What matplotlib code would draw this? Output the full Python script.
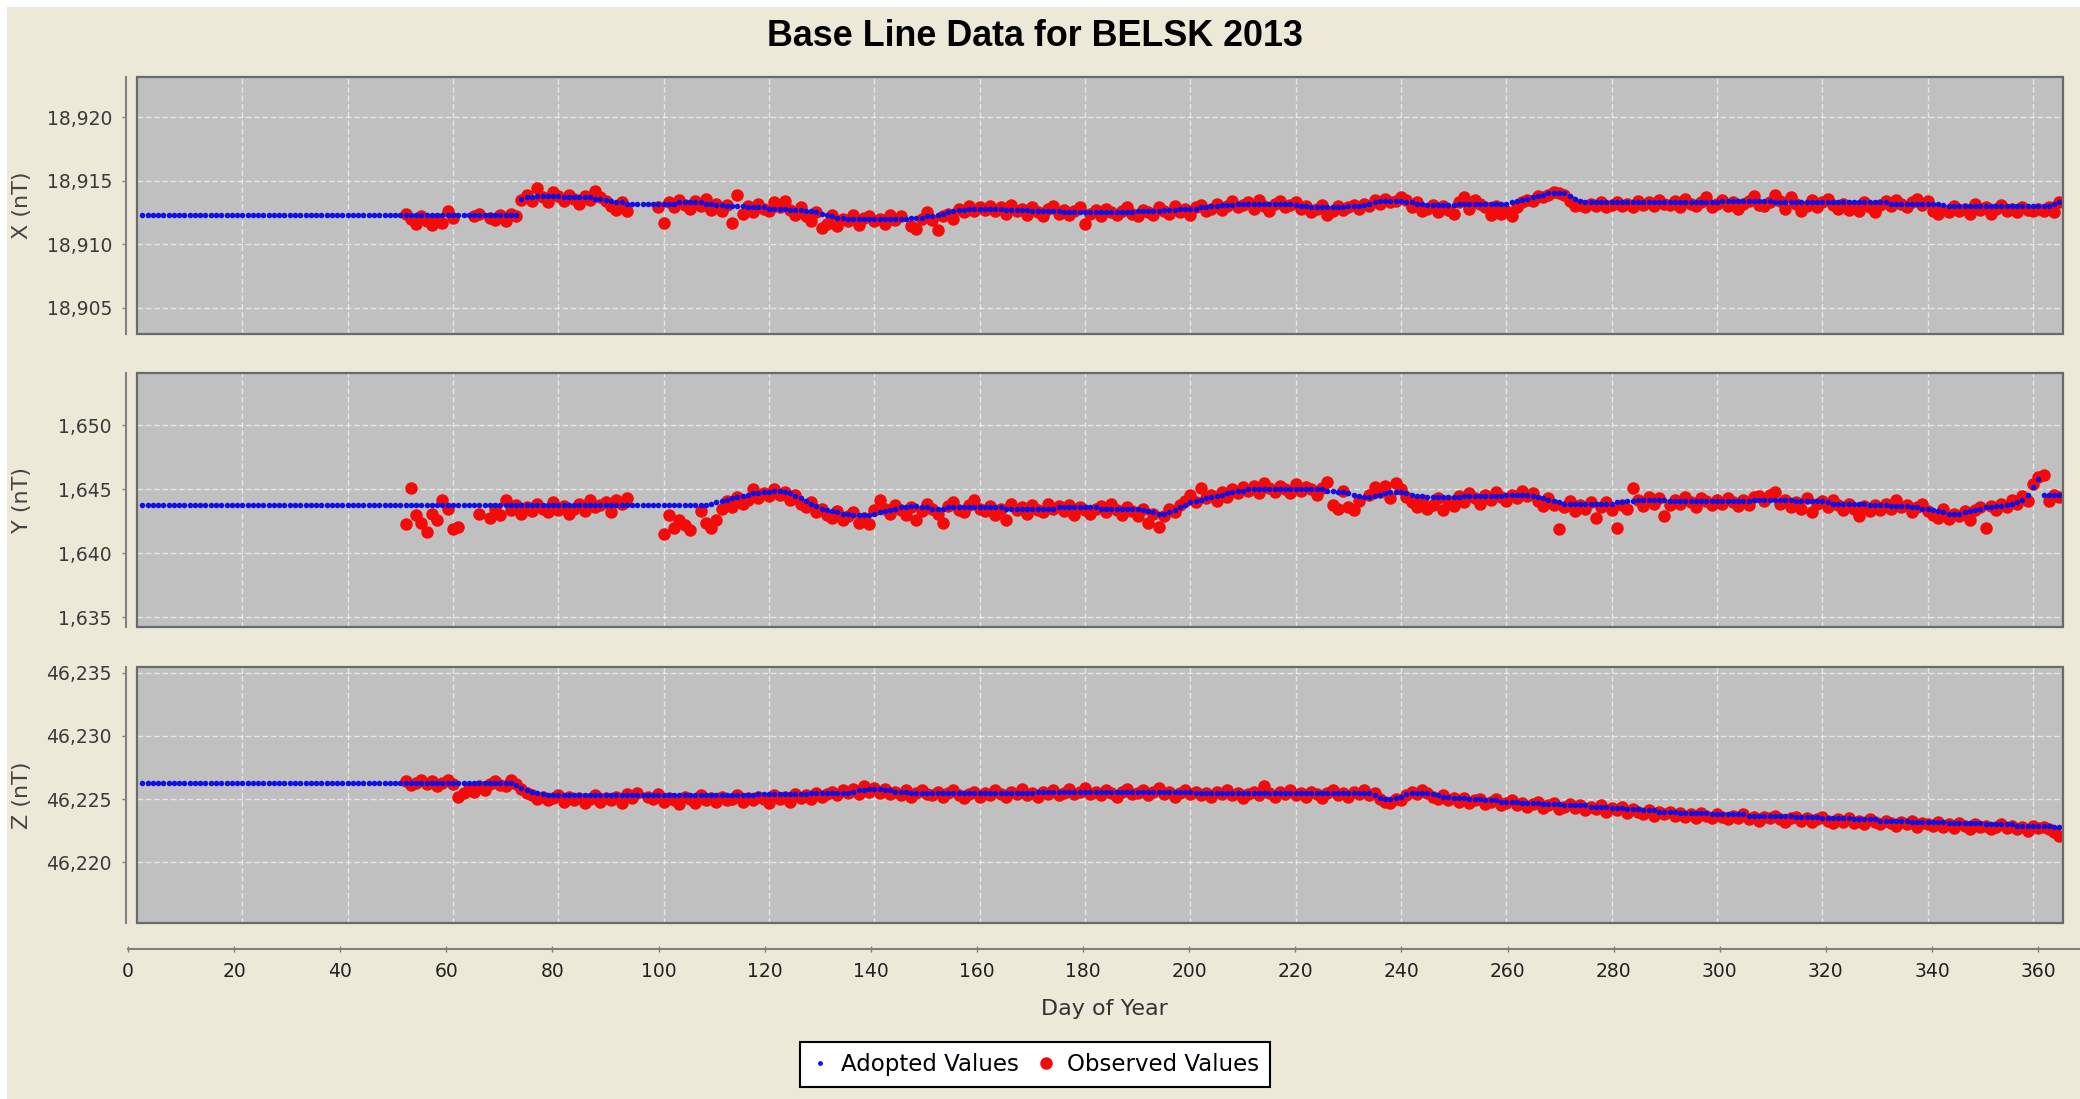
import numpy as np
import matplotlib.pyplot as plt
from matplotlib.patches import Rectangle
from matplotlib.lines import Line2D
from matplotlib.ticker import FuncFormatter

nan = np.nan

# ---- data: adopted baseline (one value per day, day 1..365) ----
x_adopted = ([18912.3] * 72 +
             [18913.6, 18913.7, 18913.7, 18913.8, 18913.8, 18913.8, 18913.8, 18913.8, 18913.7, 18913.7,
              18913.7, 18913.7, 18913.7, 18913.7, 18913.6, 18913.6] +
             [18913.5, 18913.4, 18913.3, 18913.3, 18913.2, 18913.2, 18913.2, 18913.2, 18913.2, 18913.2,
              18913.2, 18913.2, 18913.2, 18913.2, 18913.3, 18913.3, 18913.3, 18913.3] +
             [18913.3, 18913.2, 18913.2, 18913.1, 18913.1, 18913.0, 18913.0, 18913.0, 18913.0, 18912.9,
              18912.9, 18912.9, 18912.9, 18912.8, 18912.8, 18912.8, 18912.8, 18912.7, 18912.7, 18912.7, 18912.6] +
             [18912.6, 18912.5, 18912.4, 18912.3, 18912.2, 18912.1, 18912.1, 18912.0, 18912.0, 18912.0,
              18912.0, 18912.0, 18912.0, 18912.0, 18912.0, 18912.0, 18912.0, 18912.0] +
             [18912.0, 18912.1, 18912.1, 18912.1, 18912.2, 18912.2, 18912.3, 18912.4, 18912.5, 18912.6,
              18912.7, 18912.7, 18912.8, 18912.8, 18912.8] +
             [18912.8, 18912.8, 18912.8, 18912.8, 18912.7, 18912.7, 18912.7, 18912.7, 18912.7, 18912.6,
              18912.6, 18912.6, 18912.6, 18912.6, 18912.6, 18912.5, 18912.5, 18912.5, 18912.5, 18912.5,
              18912.5, 18912.5, 18912.5, 18912.5, 18912.5, 18912.5, 18912.5, 18912.5, 18912.5, 18912.6,
              18912.6, 18912.6, 18912.6, 18912.6, 18912.7, 18912.7, 18912.7, 18912.8, 18912.8, 18912.8] +
             [18912.8, 18912.9, 18912.9, 18913.0, 18913.0, 18913.1, 18913.1, 18913.1, 18913.2, 18913.2,
              18913.2, 18913.2, 18913.2, 18913.2, 18913.2, 18913.2, 18913.2, 18913.2, 18913.2, 18913.1,
              18913.0, 18913.0, 18912.9, 18912.9, 18912.9, 18912.9, 18912.9, 18912.9, 18912.9, 18913.0,
              18913.0, 18913.0, 18913.1, 18913.2, 18913.3, 18913.4, 18913.4, 18913.4, 18913.4, 18913.4] +
             [18913.3, 18913.3, 18913.2, 18913.2, 18913.1, 18913.1, 18913.1, 18913.1, 18913.1, 18913.1,
              18913.2, 18913.2, 18913.2, 18913.2, 18913.2, 18913.2, 18913.2, 18913.2, 18913.2, 18913.2] +
             [18913.3, 18913.4, 18913.5, 18913.6, 18913.7, 18913.8, 18913.9, 18914.0, 18914.0, 18914.0,
              18914.0, 18913.8, 18913.6, 18913.4, 18913.3, 18913.3, 18913.3, 18913.3, 18913.3, 18913.3] +
             [18913.3] * 20 + [18913.4] * 10 + [18913.3] * 22 + [18913.2] * 10 +
             [18913.1] + [18913.0] * 20 + [18913.2, 18913.3])

y_adopted = ([1643.8] * 108 +
             [1643.9, 1644.0, 1644.1, 1644.2, 1644.3, 1644.4, 1644.5, 1644.6, 1644.7, 1644.7,
              1644.8, 1644.8, 1644.9, 1644.9, 1644.8, 1644.7, 1644.5] +
             [1644.3, 1644.1, 1643.9, 1643.7, 1643.5, 1643.4, 1643.3, 1643.2, 1643.1] +
             [1643.1, 1643.0, 1643.0, 1643.0, 1643.0, 1643.1, 1643.2, 1643.3, 1643.4, 1643.5] +
             [1643.6, 1643.6, 1643.7, 1643.7, 1643.6, 1643.6, 1643.5, 1643.5, 1643.5, 1643.6] +
             [1643.6] * 10 + [1643.5] * 10 + [1643.6] * 8 + [1643.5] * 8 +
             [1643.4, 1643.3, 1643.2, 1643.1, 1643.1, 1643.2, 1643.4, 1643.6, 1643.8, 1644.0] +
             [1644.1, 1644.2, 1644.3, 1644.4, 1644.5, 1644.6, 1644.7, 1644.8, 1644.9, 1644.9,
              1645.0, 1645.0, 1645.0, 1645.0, 1645.0] +
             [1645.0] * 10 + [1644.9, 1644.9, 1644.8, 1644.8, 1644.7, 1644.6, 1644.5] +
             [1644.4, 1644.4, 1644.5, 1644.6, 1644.7, 1644.8, 1644.8, 1644.8] +
             [1644.7, 1644.6, 1644.5, 1644.5, 1644.4, 1644.4, 1644.4, 1644.4, 1644.4, 1644.4] +
             [1644.4, 1644.5, 1644.5, 1644.5, 1644.5, 1644.5, 1644.5, 1644.5, 1644.5, 1644.6,
              1644.6, 1644.6, 1644.6, 1644.6, 1644.5, 1644.4] +
             [1644.3, 1644.2, 1644.1, 1644.0, 1643.9, 1643.9, 1643.9, 1643.9, 1643.9, 1643.9,
              1643.9, 1643.9, 1643.9, 1643.9] +
             [1644.0, 1644.0, 1644.1, 1644.1, 1644.2, 1644.2, 1644.2, 1644.2, 1644.2, 1644.2] +
             [1644.1] * 10 + [1644.1] * 6 + [1644.2] * 8 + [1644.1] * 6 +
             [1644.0, 1643.9, 1643.9, 1643.9, 1643.9, 1643.9, 1643.9, 1643.9, 1643.8, 1643.8,
              1643.8, 1643.8, 1643.7, 1643.7, 1643.7, 1643.7, 1643.6, 1643.6, 1643.5, 1643.5] +
             [1643.4, 1643.3, 1643.2, 1643.1, 1643.1, 1643.1, 1643.2, 1643.3, 1643.4, 1643.5] +
             [1643.6, 1643.6, 1643.7, 1643.7, 1643.8, 1643.9, 1644.0, 1644.2, 1644.6, 1645.2,
              1645.8, 1644.6, 1644.6, 1644.6, 1644.6])

z_adopted = ([46226.3] * 71 +
             [46226.1, 46225.9, 46225.7, 46225.6, 46225.5, 46225.4, 46225.3, 46225.3] +
             [46225.3] * 28 +
             [46225.3] * 10 + [46225.4] * 10 + [46225.5] * 8 +
             [46225.6, 46225.7, 46225.7, 46225.8, 46225.8, 46225.8, 46225.7, 46225.7, 46225.6, 46225.6,
              46225.6, 46225.5, 46225.5, 46225.5, 46225.5] +
             [46225.5] * 20 + [46225.6] * 30 + [46225.5] * 34 +
             [46225.3, 46225.1, 46225.0, 46225.0, 46225.1, 46225.2] +
             [46225.4, 46225.5, 46225.5, 46225.5, 46225.5, 46225.4, 46225.3, 46225.2, 46225.2, 46225.1] +
             [46225.1, 46225.1, 46225.0, 46225.0, 46225.0, 46224.9, 46224.9, 46224.9, 46224.8, 46224.8,
              46224.8, 46224.8, 46224.7, 46224.7, 46224.7, 46224.7, 46224.6, 46224.6, 46224.6, 46224.6,
              46224.5, 46224.5, 46224.5, 46224.5, 46224.5, 46224.4, 46224.4, 46224.4, 46224.4, 46224.3,
              46224.3, 46224.3, 46224.2, 46224.2, 46224.2, 46224.1, 46224.1, 46224.1, 46224.0, 46224.0,
              46224.0, 46224.0, 46223.9, 46223.9, 46223.9, 46223.9, 46223.9, 46223.9, 46223.8, 46223.8,
              46223.8, 46223.8, 46223.8, 46223.8, 46223.8, 46223.7, 46223.7, 46223.7, 46223.7, 46223.7,
              46223.7, 46223.7, 46223.7, 46223.7, 46223.6, 46223.6, 46223.6, 46223.6, 46223.6, 46223.5,
              46223.5, 46223.5, 46223.5, 46223.5, 46223.5, 46223.4, 46223.4, 46223.4, 46223.4, 46223.4,
              46223.3, 46223.3, 46223.3, 46223.3, 46223.3, 46223.3, 46223.2, 46223.2, 46223.2, 46223.2,
              46223.2, 46223.2, 46223.2, 46223.1, 46223.1, 46223.1, 46223.1, 46223.1, 46223.1, 46223.1,
              46223.0, 46223.0, 46223.0, 46223.0, 46223.0, 46223.0, 46222.9, 46222.9, 46222.9, 46222.9,
              46222.9, 46222.9, 46222.9, 46222.8, 46222.8])

# ---- data: observed values, day 51..365 (nan = no observation) ----
x_observed = [
    18912.4, 18912.0, 18911.6, 18912.2, 18911.8, 18911.5, 18912.0, 18911.7, 18912.6, 18912.1,
    nan, nan, nan, 18912.2, 18912.4, nan, 18912.1, 18911.9, 18912.3, 18911.8,
    18912.4, 18912.2, 18913.5, 18913.9, 18913.4, 18914.4, 18913.7, 18913.3, 18914.1, 18913.8,
    18913.4, 18913.9, 18913.6, 18913.2, 18913.8, 18913.5, 18914.2, 18913.7, 18913.4, 18913.0,
    18912.7, 18913.3, 18912.6, nan, nan, nan, nan, nan, 18912.9, 18911.7,
    18913.3, 18912.9, 18913.5, 18913.1, 18912.8, 18913.4, 18913.0, 18913.6, 18912.7, 18913.2,
    18912.6, 18913.1, 18911.7, 18913.9, 18912.4, 18913.0, 18912.5, 18913.2, 18912.8, 18912.6,
    18913.3, 18912.9, 18913.4, 18912.7, 18912.3, 18912.9, 18912.2, 18911.8, 18912.5, 18911.3,
    18911.6, 18912.3, 18911.4, 18912.0, 18911.8, 18912.3, 18911.5, 18912.1, 18912.2, 18911.8,
    18912.0, 18911.6, 18912.3, 18911.9, 18912.2, nan, 18911.4, 18911.2, 18912.0, 18912.5,
    18911.9, 18911.1, 18912.2, 18912.4, 18912.0, 18912.8, 18912.5, 18913.0, 18912.6, 18912.9,
    18912.7, 18913.0, 18912.6, 18912.9, 18912.4, 18913.1, 18912.6, 18912.8, 18912.3, 18912.9,
    18912.5, 18912.2, 18912.8, 18913.0, 18912.4, 18912.7, 18912.3, 18912.6, 18912.9, 18911.6,
    18912.4, 18912.7, 18912.2, 18912.8, 18912.5, 18912.3, 18912.6, 18912.9, 18912.4, 18912.2,
    18912.7, 18912.5, 18912.3, 18912.9, 18912.6, 18912.4, 18913.0, 18912.5, 18912.8, 18912.3,
    18912.9, 18913.1, 18912.6, 18912.8, 18913.2, 18912.7, 18913.0, 18913.4, 18912.9, 18913.1,
    18913.3, 18912.8, 18913.5, 18913.0, 18912.6, 18913.2, 18913.4, 18912.9, 18913.1, 18913.3,
    18912.8, 18913.0, 18912.5, 18912.8, 18913.1, 18912.3, 18912.6, 18913.0, 18912.7, 18912.9,
    18913.1, 18912.8, 18913.2, 18913.0, 18913.5, 18913.2, 18913.6, 18913.3, 18913.4, 18913.7,
    18913.5, 18912.9, 18913.3, 18912.6, 18912.8, 18913.1, 18912.5, 18913.0, 18912.7, 18912.4,
    18913.3, 18913.7, 18912.8, 18913.5, 18913.2, 18912.9, 18912.3, 18913.0, 18912.4, 18912.6,
    18912.2, 18912.9, 18913.3, 18913.5, 18913.4, 18913.8, 18913.7, 18913.9, 18914.1, 18914.0,
    18913.9, 18913.4, 18913.0, 18913.1, 18912.9, 18913.2, 18913.0, 18913.3, 18912.9, 18913.1,
    18913.3, 18913.0, 18913.2, 18912.9, 18913.4, 18913.1, 18913.3, 18913.0, 18913.5, 18913.2,
    18913.1, 18913.4, 18912.9, 18913.6, 18913.2, 18913.0, 18913.3, 18913.7, 18912.9, 18913.2,
    18913.5, 18913.0, 18913.3, 18912.8, 18913.2, 18913.4, 18913.8, 18913.1, 18913.0, 18913.3,
    18913.9, 18913.4, 18912.8, 18913.7, 18913.2, 18912.6, 18913.0, 18913.5, 18912.9, 18913.3,
    18913.6, 18913.1, 18912.8, 18913.2, 18912.7, 18913.0, 18912.6, 18913.3, 18912.9, 18912.5,
    18913.1, 18913.4, 18913.0, 18913.5, 18913.2, 18912.9, 18913.3, 18913.6, 18913.1, 18913.4,
    18912.6, 18912.4, 18912.7, 18912.5, 18913.0, 18912.6, 18912.8, 18912.4, 18913.2, 18912.7,
    18912.9, 18912.4, 18912.8, 18913.1, 18912.6, 18912.8, 18912.5, 18912.9, 18912.7, 18912.6,
    18912.8, 18912.6, 18912.9, 18912.5, 18913.3]

y_observed = [
    1642.3, 1645.1, 1643.0, 1642.4, 1641.7, 1643.1, 1642.6, 1644.2, 1643.5, 1641.9,
    1642.1, nan, nan, nan, 1643.1, nan, 1642.8, 1643.5, 1643.0, 1644.2,
    1643.4, 1643.8, 1643.1, 1643.6, 1643.3, 1643.9, 1643.5, 1643.2, 1644.0, 1643.4,
    1643.7, 1643.1, 1643.5, 1643.9, 1643.3, 1644.2, 1643.6, 1643.8, 1644.0, 1643.2,
    1644.2, 1643.9, 1644.3, nan, nan, nan, nan, nan, nan, 1641.5,
    1643.0, 1642.0, 1642.6, 1642.2, 1641.8, nan, 1643.3, 1642.4, 1642.0, 1642.6,
    1643.5, 1644.1, 1643.6, 1644.4, 1643.9, 1644.2, 1645.0, 1644.3, 1644.7, 1644.5,
    1645.0, 1644.6, 1644.8, 1644.2, 1644.6, 1643.9, 1643.6, 1644.0, 1643.2, 1643.5,
    1643.0, 1642.8, 1643.3, 1642.6, 1642.9, 1643.2, 1642.4, 1642.8, 1642.3, 1643.4,
    1644.2, 1643.5, 1643.1, 1643.8, 1643.4, 1643.0, 1643.6, 1642.6, 1643.3, 1643.9,
    1643.5, 1643.1, 1642.4, 1643.7, 1644.0, 1643.4, 1643.2, 1643.8, 1644.2, 1643.5,
    1643.3, 1643.7, 1643.0, 1643.5, 1642.6, 1643.9, 1643.4, 1643.6, 1643.1, 1643.8,
    1643.4, 1643.2, 1643.9, 1643.5, 1643.7, 1643.3, 1643.8, 1643.0, 1643.6, 1643.4,
    1643.1, 1643.5, 1643.7, 1643.2, 1643.9, 1643.4, 1643.0, 1643.6, 1643.3, 1642.9,
    1643.5, 1642.4, 1643.1, 1642.1, 1642.9, 1643.5, 1643.2, 1643.8, 1644.1, 1644.6,
    1644.0, 1645.1, 1644.3, 1644.6, 1644.1, 1644.8, 1644.4, 1645.0, 1644.7, 1645.2,
    1644.9, 1645.3, 1644.7, 1645.5, 1645.1, 1644.8, 1645.3, 1645.0, 1644.7, 1645.4,
    1644.9, 1645.2, 1645.0, 1644.6, 1645.1, 1645.6, 1643.8, 1643.5, 1644.9, 1643.6,
    1643.4, 1644.1, nan, 1644.6, 1645.2, 1644.8, 1645.3, 1644.3, 1645.5, 1645.0,
    1644.4, 1644.0, 1643.6, 1644.2, 1643.5, 1643.8, 1644.3, 1643.4, 1644.1, 1643.7,
    1644.5, 1644.0, 1644.7, 1644.3, 1643.9, 1644.6, 1644.2, 1644.8, 1644.4, 1644.1,
    1644.6, 1644.3, 1644.9, 1644.5, 1644.7, 1644.1, 1643.7, 1644.3, 1643.8, 1641.9,
    1643.6, 1644.1, 1643.3, 1643.8, 1643.5, 1644.0, 1642.8, 1643.6, 1644.0, 1643.4,
    1642.0, 1643.8, 1643.5, 1645.1, 1644.2, 1643.7, 1644.4, 1643.9, 1644.3, 1642.9,
    1643.8, 1644.2, 1643.9, 1644.4, 1644.0, 1643.6, 1644.3, 1644.1, 1643.8, 1644.2,
    1643.9, 1644.3, 1644.0, 1643.7, 1644.2, 1643.8, 1644.4, 1644.5, 1644.1, 1644.6,
    1644.8, 1643.9, 1644.2, 1643.6, 1644.0, 1643.5, 1644.3, 1643.2, 1643.9, 1644.1,
    1643.6, 1644.2, 1643.8, 1643.4, 1643.9, 1643.5, 1642.9, 1643.7, 1643.3, 1643.8,
    1643.4, 1643.9, 1643.5, 1644.2, 1643.6, 1643.8, 1643.2, 1643.6, 1643.9, 1643.3,
    1643.0, 1642.8, 1643.5, 1642.7, 1643.1, 1642.9, 1643.3, 1642.6, 1643.4, 1643.6,
    1642.0, 1643.7, 1643.4, 1643.9, 1643.6, 1644.2, 1643.9, 1644.5, 1644.1, 1645.4,
    1646.0, 1646.1, 1644.1, 1644.6, 1644.4]

z_observed = [
    46226.4, 46226.1, 46226.3, 46226.5, 46226.2, 46226.4, 46226.0, 46226.3, 46226.5, 46226.2,
    46225.2, 46225.5, 46225.8, 46225.6, 46226.0, 46225.7, 46226.2, 46226.4, 46226.1, 46226.0,
    46226.5, 46226.2, 46225.8, 46225.5, 46225.3, 46225.0, 46225.2, 46224.9, 46225.1, 46225.3,
    46224.8, 46225.2, 46224.9, 46225.1, 46224.7, 46225.0, 46225.3, 46224.8, 46225.1, 46224.9,
    46225.2, 46224.7, 46225.4, 46225.1, 46225.5, nan, 46225.2, 46225.0, 46225.4, 46224.8,
    46225.1, 46224.9, 46224.6, 46225.2, 46225.0, 46224.7, 46225.3, 46224.9, 46225.1, 46224.8,
    46225.2, 46224.9, 46225.0, 46225.3, 46224.8, 46225.1, 46224.9, 46225.2, 46225.0, 46224.7,
    46225.3, 46225.0, 46225.2, 46224.8, 46225.4, 46225.1, 46225.3, 46225.0, 46225.5, 46225.2,
    46225.4, 46225.6, 46225.3, 46225.7, 46225.5, 46225.8, 46225.4, 46226.0, 46225.6, 46225.9,
    46225.5, 46225.8, 46225.4, 46225.6, 46225.3, 46225.7, 46225.2, 46225.5, 46225.7, 46225.4,
    46225.3, 46225.6, 46225.2, 46225.5, 46225.7, 46225.3, 46225.1, 46225.4, 46225.6, 46225.2,
    46225.5, 46225.3, 46225.7, 46225.4, 46225.2, 46225.6, 46225.4, 46225.8, 46225.3, 46225.5,
    46225.2, 46225.6, 46225.4, 46225.7, 46225.3, 46225.5, 46225.8, 46225.4, 46225.6, 46225.9,
    46225.4, 46225.6, 46225.3, 46225.7, 46225.5, 46225.2, 46225.6, 46225.8, 46225.4, 46225.5,
    46225.7, 46225.3, 46225.6, 46225.9, 46225.4, 46225.6, 46225.2, 46225.5, 46225.7, 46225.4,
    46225.6, 46225.3, 46225.5, 46225.2, 46225.6, 46225.4, 46225.7, 46225.3, 46225.5, 46225.1,
    46225.4, 46225.6, 46225.3, 46226.0, 46225.5, 46225.2, 46225.6, 46225.4, 46225.7, 46225.3,
    46225.5, 46225.2, 46225.6, 46225.4, 46225.1, 46225.5, 46225.7, 46225.3, 46225.5, 46225.2,
    46225.6, 46225.4, 46225.7, 46225.3, 46225.5, 46225.0, 46224.8, 46224.7, 46225.0, 46224.9,
    46225.3, 46225.6, 46225.4, 46225.7, 46225.5, 46225.2, 46225.0, 46225.3, 46224.9, 46225.1,
    46224.8, 46225.1, 46224.7, 46224.9, 46225.0, 46224.6, 46224.8, 46225.0, 46224.5, 46224.7,
    46224.9, 46224.5, 46224.7, 46224.4, 46224.6, 46224.8, 46224.3, 46224.5, 46224.7, 46224.2,
    46224.4, 46224.6, 46224.3, 46224.5, 46224.1, 46224.4, 46224.2, 46224.5, 46224.0, 46224.3,
    46224.1, 46224.4, 46223.9, 46224.2, 46224.0, 46223.8, 46224.1, 46223.7, 46224.0, 46223.8,
    46224.0, 46223.7, 46223.9, 46223.6, 46223.8, 46223.5, 46223.9, 46223.7, 46223.5, 46223.8,
    46223.6, 46223.4, 46223.7, 46223.5, 46223.8, 46223.4, 46223.6, 46223.3, 46223.6, 46223.5,
    46223.7, 46223.4, 46223.2, 46223.5, 46223.6, 46223.3, 46223.5, 46223.2, 46223.4, 46223.6,
    46223.3, 46223.1, 46223.4, 46223.2, 46223.5, 46223.1, 46223.3, 46223.0, 46223.4, 46223.2,
    46223.0, 46223.3, 46223.1, 46222.9, 46223.2, 46223.0, 46223.3, 46222.8, 46223.1, 46223.0,
    46222.9, 46223.2, 46222.8, 46223.0, 46222.7, 46223.1, 46222.9, 46222.6, 46223.0, 46222.8,
    46222.9, 46222.6, 46222.8, 46223.0, 46222.7, 46222.9, 46222.6, 46222.8, 46222.5, 46222.9,
    46222.7, 46222.8, 46222.6, 46222.4, 46222.1]

first_obs_day = 51
panel_labels = ["X (nT)", "Y (nT)", "Z (nT)"]
panel_ticks = [[18905, 18910, 18915, 18920],
               [1635, 1640, 1645, 1650],
               [46220, 46225, 46230, 46235]]
panel_limits = [(18902.95, 18923.15), (1634.25, 1654.1), (46215.2, 46235.45)]
day_ticks = list(range(0, 361, 20))

# ---- layout (pixels of the 2080x1099 picture) ----
W, H = 2080, 1099
BG = '#ECE9D8'
PLOT_BG = '#C0C0C0'
BLUE = '#1010E6'
RED = '#F50A0A'
plot_left, plot_right = 137, 2063
panel_rows = [(77, 334), (373, 627), (667, 923)]

fig = plt.figure(figsize=(W / 100, H / 100), dpi=100)
fig.patch.set_facecolor('white')
fig.patches.append(Rectangle((7 / W, 0), 1, 1 - 7 / H, transform=fig.transFigure,
                             facecolor=BG, edgecolor='none', zorder=-10))

fmt = FuncFormatter(lambda v, p: f'{v:,.0f}')
series = [(x_adopted, x_observed), (y_adopted, y_observed), (z_adopted, z_observed)]

for i, (top, bot) in enumerate(panel_rows):
    ax = fig.add_axes([plot_left / W, 1 - bot / H, (plot_right - plot_left) / W, (bot - top) / H])
    ax.set_facecolor(PLOT_BG)
    adopted, observed = series[i]
    days = np.arange(1, len(adopted) + 1)
    obs_days = np.arange(first_obs_day, first_obs_day + len(observed))
    ax.plot(obs_days, observed, 'o', color=RED, ms=9, mec='none', zorder=3)
    ax.plot(days, adopted, 'o', color=BLUE, ms=4, mec='none', zorder=4)

    ax.set_xlim(0, 365.7)
    ax.set_ylim(*panel_limits[i])
    ax.set_xticks(day_ticks)
    ax.set_yticks(panel_ticks[i])
    ax.yaxis.set_major_formatter(fmt)
    ax.grid(True, color='white', lw=1.0, ls=(0, (4, 2)), alpha=0.6, zorder=1)
    ax.set_axisbelow(True)
    ax.tick_params(axis='x', length=0, labelbottom=False)
    ax.tick_params(axis='y', direction='out', length=3, width=1, color='#808080',
                   labelsize=13.5, labelcolor='#3a3a3a', pad=7)
    for s in ['top', 'right', 'bottom']:
        ax.spines[s].set_visible(False)
    ax.spines['left'].set_position(('outward', 8))
    ax.spines['left'].set_color('#808080')
    ax.spines['left'].set_linewidth(1.5)
    ax.add_patch(Rectangle((0, 0), 1, 1, transform=ax.transAxes, fill=False,
                           edgecolor='#6a6a6a', lw=1.6, clip_on=False, zorder=6))
    fig.text(22 / W, 1 - (top + bot) / 2 / H, panel_labels[i], rotation=90,
             ha='center', va='center', fontsize=16, color='#444444')

# shared day-of-year axis below the panels
axx = fig.add_axes([128 / W, 1 - 949 / H, (W - 128) / W, 0.0001])
axx.patch.set_visible(False)
axx.set_xlim(0, 367.9)
axx.set_yticks([])
axx.set_xticks(day_ticks)
for s in ['top', 'right', 'left']:
    axx.spines[s].set_visible(False)
axx.spines['bottom'].set_color('#808080')
axx.spines['bottom'].set_linewidth(1.5)
axx.tick_params(axis='x', direction='inout', length=5, width=1, color='#808080',
                labelsize=13.5, labelcolor='#222222', pad=7)
axx.set_xlabel('Day of Year', fontsize=16, color='#333333', labelpad=13)

fig.text(1035 / W, 1 - 36 / H, 'Base Line Data for BELSK 2013', ha='center', va='center',
         fontsize=25.8, fontweight='bold', family='Liberation Sans')

handles = [Line2D([], [], ls='none', marker='o', color=BLUE, ms=3.5, mec='none'),
           Line2D([], [], ls='none', marker='o', color=RED, ms=9, mec='none')]
leg = fig.legend(handles, ['Adopted Values', 'Observed Values'], loc='center',
                 bbox_to_anchor=(1035 / W, 1 - 1064.5 / H), ncol=2, fontsize=16.5,
                 frameon=True, fancybox=False, edgecolor='black', framealpha=1,
                 handlelength=0.8, handletextpad=0.5, columnspacing=0.8, borderpad=0.5)
leg.get_frame().set_linewidth(1.5)

fig.savefig('out.png', dpi=100, facecolor=fig.get_facecolor())
